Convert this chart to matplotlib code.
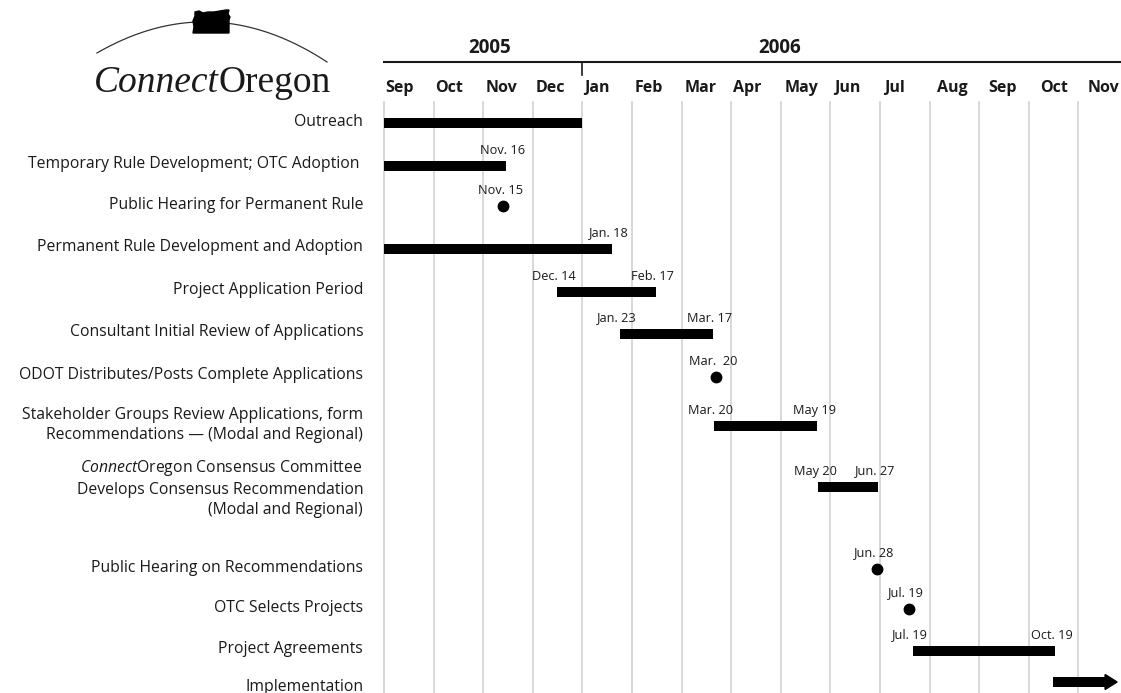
import numpy as np
import matplotlib
matplotlib.use("Agg")
import matplotlib.pyplot as plt

plt.rcParams['font.family'] = ['Open Sans', 'DejaVu Sans']
plt.rcParams['mathtext.fontset'] = 'custom'
plt.rcParams['mathtext.rm'] = 'Open Sans'
plt.rcParams['mathtext.it'] = 'Open Sans:italic'

# ---- data (positions in months from Sep 1 2005) ----
months = ['Sep', 'Oct', 'Nov', 'Dec', 'Jan', 'Feb', 'Mar', 'Apr', 'May',
          'Jun', 'Jul', 'Aug', 'Sep', 'Oct', 'Nov']
years = ['2005', '2006']
year_pos = [2.14, 7.98]

tasks = [
    "Outreach",
    "Temporary Rule Development; OTC Adoption ",
    "Public Hearing for Permanent Rule",
    "Permanent Rule Development and Adoption",
    "Project Application Period",
    "Consultant Initial Review of Applications",
    "ODOT Distributes/Posts Complete Applications",
    "Stakeholder Groups Review Applications, form\nRecommendations \u2014 (Modal and Regional)",
    "$\\mathit{Connect}$Oregon Consensus Committee \nDevelops Consensus Recommendation\n(Modal and Regional)",
    "Public Hearing on Recommendations",
    "OTC Selects Projects",
    "Project Agreements",
    "Implementation",
]
kinds = ['bar', 'bar', 'dot', 'bar', 'bar', 'bar', 'dot', 'bar', 'bar',
         'dot', 'dot', 'bar', 'arrow']
starts = [0.0, 0.0, 2.40, 0.0, 3.49, 4.76, 6.69, 6.65, 8.75, 9.94, 10.58, 10.67, 13.49]
ends = [4.0, 2.46, 2.40, 4.60, 5.48, 6.63, 6.69, 8.73, 9.96, 9.94, 10.58, 13.53, 14.78]
start_labels = ['', '', 'Nov. 15', '', 'Dec. 14', 'Jan. 23', 'Mar.  20', 'Mar. 20',
                'May 20', 'Jun. 28', 'Jul. 19', 'Jul. 19', '']
end_labels = ['', 'Nov. 16', '', 'Jan. 18', 'Feb. 17', 'Mar. 17', '', 'May 19',
              'Jun. 27', '', '', 'Oct. 19', '']

# ---- layout (pixels) ----
W, H = 1121, 693
px_month = 49.6
x0 = 384
row_y = [123, 166, 206, 249, 292, 334, 377, 426, 487, 569, 609, 651, 682]
label_y = [122, 164, 205, 247, 290, 332, 375, 425, 488, 568, 608, 649, 687]
month_label_px = [385, 435, 486, 536, 584, 635, 685, 733, 785, 834, 884, 937, 988, 1040, 1088]
ink = '#1a1a1a'

fig = plt.figure(figsize=(W / 100, H / 100), dpi=100)
left = x0 / W
xmax = (W - x0) / px_month

ax = fig.add_axes([left, 0, 1 - left, (H - 102) / H])
ax.set_xlim(0, xmax)
ax.set_ylim(H, 102)
ax.axis('off')

for m in range(len(months)):
    ax.axvline(m, color='#d6d6d6', lw=1.3, zorder=0, clip_on=False)

for i, t in enumerate(tasks):
    ax.text(-0.42, label_y[i], t, ha='right', va='center', multialignment='right',
            fontsize=11.3, color=ink, linespacing=1.3)
    y = row_y[i]
    if kinds[i] == 'bar':
        ax.barh(y, ends[i] - starts[i], left=starts[i], height=10, color='black', zorder=3)
    elif kinds[i] == 'dot':
        ax.plot(starts[i], y, 'o', ms=7.5, color='black', zorder=3)
    else:
        head = 12 / px_month
        ax.barh(y, ends[i] - head - starts[i], left=starts[i], height=10, color='black', zorder=3)
        ax.fill([ends[i] - head, ends[i], ends[i] - head], [y - 7.5, y, y + 7.5],
                color='black', zorder=3, clip_on=False)
    if start_labels[i]:
        ax.text(starts[i] - 0.06, y - 16, start_labels[i], ha='center', va='center',
                fontsize=9.2, color=ink)
    if end_labels[i]:
        ax.text(ends[i] - 0.06, y - 16, end_labels[i], ha='center', va='center',
                fontsize=9.2, color=ink)

# ---- header ----
hdr = fig.add_axes([left, (H - 102) / H, 1 - left, 102 / H])
hdr.set_xlim(0, xmax)
hdr.set_ylim(102, 0)
hdr.axis('off')
hdr.plot([0, xmax], [62, 62], color=ink, lw=1.5, clip_on=False)
hdr.plot([4, 4], [62, 75], color=ink, lw=1.2)
for name, px in zip(months, month_label_px):
    hdr.text((px - x0) / px_month, 88, name, ha='left', va='center', fontsize=11.5,
             fontweight='bold', color=ink, clip_on=False)
for yr, pos in zip(years, year_pos):
    hdr.text(pos, 48, yr, ha='center', va='center', fontsize=13.5,
             fontweight='bold', color=ink)

# ---- logo ----
lg = fig.add_axes([0, 0, left, 1])
lg.set_xlim(0, x0)
lg.set_ylim(H, 0)
lg.axis('off')
coef = np.polyfit([97, 212, 327], [53, 22, 62], 2)
xs = np.linspace(97, 327, 100)
lg.plot(xs, np.polyval(coef, xs), color='#333333', lw=0.9)
shape_x = [195, 199, 203, 208, 214, 220, 226, 229, 228, 230, 229, 229, 193, 194, 193, 195]
shape_y = [12, 11, 13, 12, 12, 11, 10, 10, 14, 17, 20, 33, 33, 27, 21, 16]
lg.fill(shape_x, shape_y, color='black', zorder=3)
lg.text(219, 92, 'Connect', ha='right', va='baseline', fontsize=27,
        family='Liberation Serif', style='italic', color=ink)
lg.text(219, 92, 'Oregon', ha='left', va='baseline', fontsize=27,
        family='Liberation Serif', color=ink)

fig.savefig('out.png', dpi=100)
